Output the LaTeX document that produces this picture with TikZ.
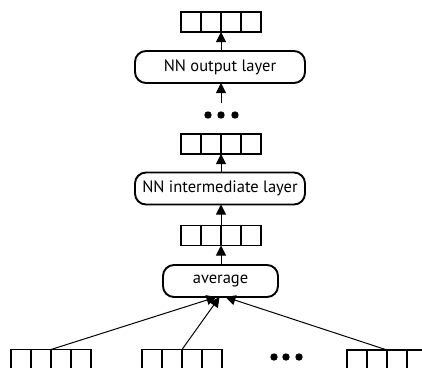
\documentclass[tikz,border=0pt]{standalone}
\usepackage{fontspec}
\setmainfont{PT Sans}
\usetikzlibrary{arrows.meta}
\begin{document}
\begin{tikzpicture}[x=1pt,y=-1pt,
  vec/.style={draw, line width=1.1pt, minimum width=80pt, minimum height=20pt, inner sep=0pt, outer sep=0pt,
    path picture={\foreach \s in {-20,0,20}{\draw[line width=1.1pt] ([xshift=\s pt]path picture bounding box.north) -- ([xshift=\s pt]path picture bounding box.south);}}},
  layerbox/.style={draw, line width=1.9pt, rounded corners=11pt, minimum height=32pt, inner sep=0pt, outer sep=0pt, font=\fontsize{16.5}{19}\selectfont},
  arr/.style={-{Triangle[length=10pt,width=10pt]}, line width=1pt},
  dotsbox/.style={minimum width=34pt, minimum height=24pt, inner sep=0pt, outer sep=0pt},
  blackdot/.style={fill=black}
]
\useasboundingbox (0,0) rectangle (422,367);
\clip (0,0) rectangle (422,367);

\node[vec] (v4) at (221,22) {};
\node[layerbox, minimum width=170pt] (out) at (220,67) {NN output layer};
\node[dotsbox] (dots1) at (221,115) {};
\foreach \dx in {-13,0,14} \fill[blackdot] ([xshift=\dx pt]dots1.center) circle (3.7pt);
\node[vec] (v3) at (221,144) {};
\node[layerbox, minimum width=170pt] (inter) at (220,188.5) {NN intermediate layer};
\node[vec] (v2) at (221,235.5) {};
\node[layerbox, minimum width=115pt] (avg) at (220.5,281) {average};
\node[vec] (b1) at (51,359.5) {};
\node[vec] (b2) at (182,359.5) {};
\node[vec] (b3) at (387,360) {};
\node[dotsbox] (dots2) at (286,357) {};
\foreach \dx in {-12,0,13} \fill[blackdot] ([xshift=\dx pt]dots2.center) circle (3.7pt);

\draw[arr] (out.north -| v4) -- (v4.south);
\draw[arr] (dots1.north) -- (out.south -| dots1);
\draw[arr] (inter.north -| v3) -- (v3.south);
\draw[arr] (v2.north) -- (inter.south -| v2);
\draw[arr] (avg.north -| v2) -- (v2.south);
\draw[arr] (b1.north) -- ([xshift=-4pt]avg.south);
\draw[arr] (b2.north) -- ([xshift=-1pt]avg.south);
\draw[arr] (b3.north) -- ([xshift=5pt]avg.south);
\end{tikzpicture}
\end{document}
